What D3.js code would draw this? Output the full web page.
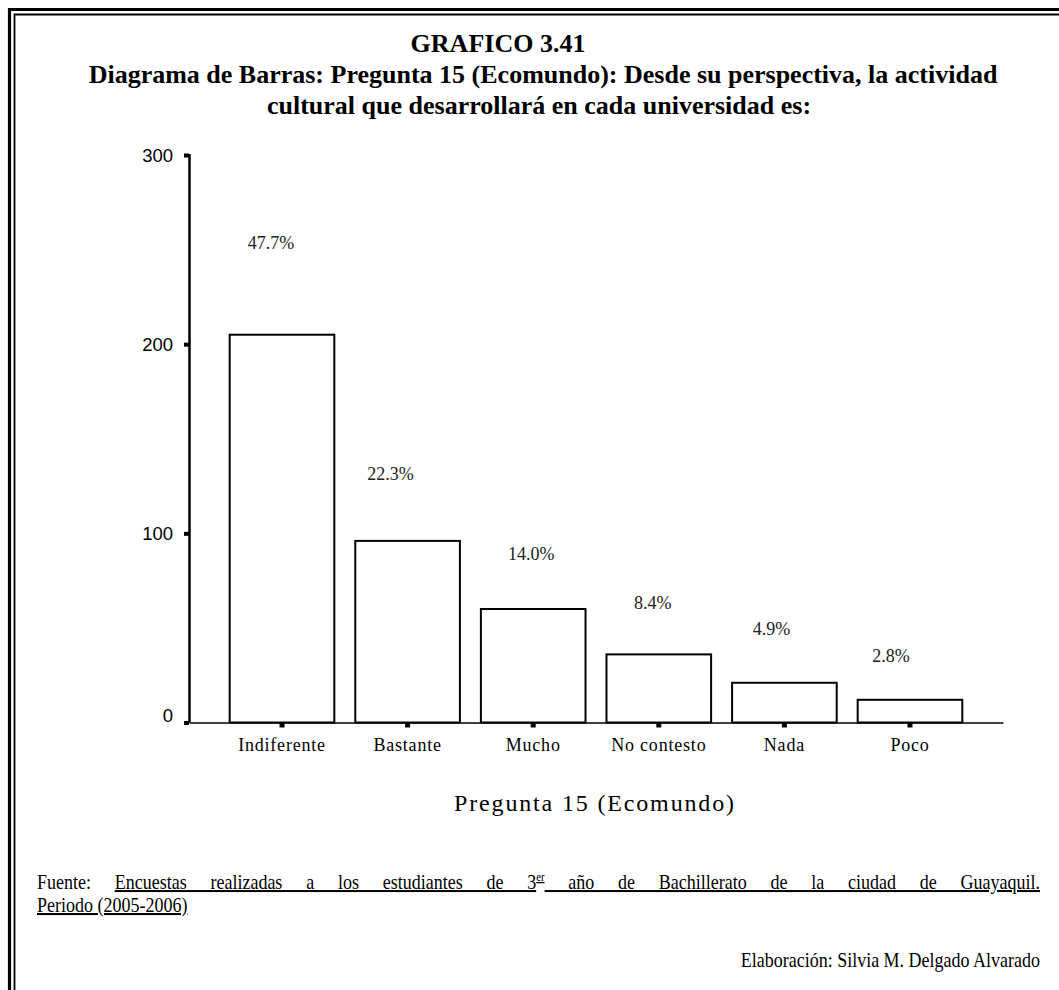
<!DOCTYPE html>
<html>
<head>
<meta charset="utf-8">
<script src="https://cdn.jsdelivr.net/npm/d3@7"></script>
<style>
  html, body { margin: 0; padding: 0; background: #fff; }
  svg { display: block; }
  .serif { font-family: "Liberation Serif", "Times New Roman", serif; }
  .sans { font-family: "Liberation Sans", Arial, sans-serif; }
</style>
</head>
<body>
<svg id="chart" width="1059" height="990"></svg>
<script>
// Pregunta 15 (Ecomundo) — frequency of each answer
const categories = ["Indiferente", "Bastante", "Mucho", "No contesto", "Nada", "Poco"];
const counts = [205, 96, 60, 36, 21, 12];
const percentLabels = ["47.7%", "22.3%", "14.0%", "8.4%", "4.9%", "2.8%"];
const yTicks = [0, 100, 200, 300];

const titleLines = [
  "GRAFICO 3.41",
  "Diagrama de Barras: Pregunta 15 (Ecomundo): Desde su perspectiva, la actividad",
  "cultural que desarrollará en cada universidad es:"
];
const xAxisTitle = "Pregunta 15 (Ecomundo)";

// percentage labels are set off from their bar (dx from bar centre, dy from bar top)
const labelShift = [[-11, -86], [-17, -61], [-2, -49], [-6, -45], [-13, -48], [-19, -38]];

const W = 1059, H = 990;
const svg = d3.select("#chart");
svg.append("rect").attr("width", W).attr("height", H).attr("fill", "#fff");

// double frame (top and left edges)
const frame = svg.append("g").attr("fill", "none").attr("stroke", "#000");
frame.append("path").attr("d", `M9.5,${H} V9.5 H${W}`).attr("stroke-width", 3.2);
frame.append("path").attr("d", `M14.5,${H} V14.5 H${W}`).attr("stroke-width", 1.8);

// title
const titleY = [52, 83, 114];
const titleX = [498, 543, 539];
svg.append("g").attr("class", "serif")
  .selectAll("text").data(titleLines).join("text")
  .attr("x", (d, i) => titleX[i])
  .attr("y", (d, i) => titleY[i])
  .attr("text-anchor", "middle")
  .attr("font-weight", "bold")
  .attr("font-size", 26)
  .attr("fill", "#000")
  .text(d => d);

// scales
const x = d3.scaleBand().domain(categories).range([189, 1003])
  .paddingInner(0.167).paddingOuter(0.324);
const y = d3.scaleLinear().domain([0, 300]).range([722.5, 155]);

// bars
svg.append("g")
  .selectAll("rect").data(counts).join("rect")
  .attr("x", (d, i) => x(categories[i]))
  .attr("y", d => y(d))
  .attr("width", x.bandwidth())
  .attr("height", d => y(0) - y(d))
  .attr("fill", "#fff")
  .attr("stroke", "#000")
  .attr("stroke-width", 2);

// y axis
const yAxis = svg.append("g").attr("transform", "translate(189,0)")
  .call(d3.axisLeft(y).tickValues(yTicks).tickSize(5).tickPadding(11).tickFormat(d3.format("d")));
yAxis.select(".domain").remove();
yAxis.selectAll(".tick line").attr("stroke-width", 4).attr("stroke", "#000");
yAxis.selectAll(".tick text").attr("class", "sans").attr("font-size", 18.5).attr("fill", "#000")
  .attr("dy", d => d === 0 ? "-0.05em" : "0.35em");
yAxis.append("line").attr("x1", 0.5).attr("x2", 0.5)
  .attr("y1", y(300) - 1).attr("y2", y(0))
  .attr("stroke", "#000").attr("stroke-width", 2.5);

// x axis
const xAxis = svg.append("g").attr("transform", `translate(0,${y(0)})`)
  .call(d3.axisBottom(x).tickSize(5).tickSizeOuter(0).tickPadding(11));
xAxis.select(".domain").attr("stroke", "#000").attr("stroke-width", 1.6);
xAxis.selectAll(".tick line").attr("stroke-width", 5).attr("stroke", "#000");
xAxis.selectAll(".tick text").attr("class", "serif").attr("font-size", 18)
  .attr("letter-spacing", 0.8).attr("fill", "#000");

// percentage labels
svg.append("g").attr("class", "serif")
  .selectAll("text").data(percentLabels).join("text")
  .attr("x", (d, i) => x(categories[i]) + x.bandwidth() / 2 + labelShift[i][0])
  .attr("y", (d, i) => y(counts[i]) + labelShift[i][1])
  .attr("text-anchor", "middle")
  .attr("font-size", 18)
  .attr("fill", "#222")
  .text(d => d);

// x axis title
svg.append("text").attr("class", "serif")
  .attr("x", 594).attr("y", 811)
  .attr("text-anchor", "middle")
  .attr("font-size", 24)
  .attr("textLength", 280)
  .attr("lengthAdjust", "spacing")
  .attr("fill", "#000")
  .text(xAxisTitle);

// source note, set in a narrow face; first line justified to the right margin
const sx = 0.9;
const foot = svg.append("g").attr("class", "serif").attr("font-size", 20).attr("fill", "#000")
  .attr("transform", `scale(${sx},1)`);
const line1 = foot.append("text").attr("x", 37 / sx).attr("y", 889);
line1.append("tspan").text("Fuente: ");
line1.append("tspan").attr("text-decoration", "underline").text("Encuestas realizadas a los estudiantes de 3");
line1.append("tspan").attr("font-size", 12).attr("dy", -8).attr("text-decoration", "underline").text("er");
line1.append("tspan").attr("dy", 8).attr("text-decoration", "underline").text(" año de Bachillerato de la ciudad de Guayaquil.");
const natural = line1.node().getComputedTextLength();
const spaces = (line1.text().match(/ /g) || []).length;
line1.attr("word-spacing", ((1040 - 37) / sx - natural) / spaces);

foot.append("text").attr("x", 37 / sx).attr("y", 912)
  .attr("text-decoration", "underline").text("Periodo (2005-2006)");

foot.append("text").attr("x", 1040 / sx).attr("y", 967).attr("text-anchor", "end")
  .text("Elaboración: Silvia M. Delgado Alvarado");
</script>
</body>
</html>
